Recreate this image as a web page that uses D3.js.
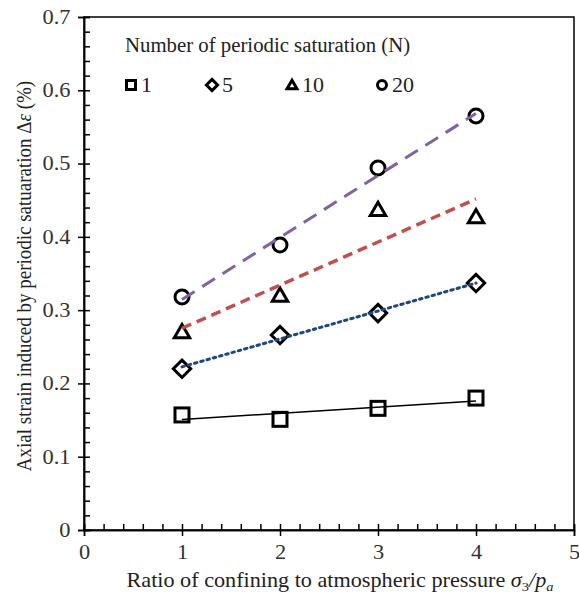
<!DOCTYPE html>
<html>
<head>
<meta charset="utf-8">
<script src="https://cdn.jsdelivr.net/npm/d3@7"></script>
<style>
  body { margin: 0; background: #fff; }
</style>
</head>
<body>
<svg width="579" height="595"></svg>
<script>
var svg = d3.select("svg");
var serif = "'Liberation Serif', 'Times New Roman', serif";

// data
var pressure = [1, 2, 3, 4];
var n1 = [0.157, 0.151, 0.166, 0.180];
var n5 = [0.220, 0.266, 0.296, 0.337];
var n10 = [0.270, 0.320, 0.437, 0.427];
var n20 = [0.318, 0.389, 0.494, 0.565];
var seriesNames = ["1", "5", "10", "20"];
var xTicks = [0, 1, 2, 3, 4, 5];
var yTicks = [0, 0.1, 0.2, 0.3, 0.4, 0.5, 0.6, 0.7];

var margin = { left: 84, right: 5, top: 17, bottom: 65 };
var width = 579, height = 595;

var x = d3.scaleLinear().domain([0, 5]).range([margin.left, width - margin.right]);
var y = d3.scaleLinear().domain([0, 0.7]).range([height - margin.bottom, margin.top]);

var series = [
  { name: seriesNames[0], values: n1, shape: "square", color: "#000", width: 1.5, dash: null },
  { name: seriesNames[1], values: n5, shape: "diamond", color: "#1F497D", width: 3, dash: "2.5,4" },
  { name: seriesNames[2], values: n10, shape: "triangle", color: "#C0504D", width: 3.5, dash: "10,6" },
  { name: seriesNames[3], values: n20, shape: "circle", color: "#8064A2", width: 3, dash: "15,9" }
];

// frame
svg.append("rect")
  .attr("x", x(0)).attr("y", y(0.7))
  .attr("width", x(5) - x(0)).attr("height", y(0) - y(0.7))
  .attr("fill", "none").attr("stroke", "#000").attr("stroke-width", 1.5);

// axes: outside major ticks + inside minor ticks
var minorY = d3.range(0, 0.7001, 0.02);
var minorX = d3.range(0, 5.001, 0.2);

var gy = svg.append("g").attr("transform", "translate(" + x(0) + ",0)");
gy.call(d3.axisLeft(y).tickValues(yTicks).tickSize(6).tickPadding(6)
  .tickFormat(function(d) { return d === 0 ? "0" : d3.format(".1f")(d); }));
gy.append("g").call(d3.axisRight(y).tickValues(minorY).tickSize(6).tickFormat(""));

var gx = svg.append("g").attr("transform", "translate(0," + y(0) + ")");
gx.call(d3.axisBottom(x).tickValues(xTicks).tickSize(6).tickPadding(6).tickFormat(d3.format("d")));
gx.append("g").call(d3.axisTop(x).tickValues(minorX).tickSize(6).tickFormat(""));

svg.selectAll(".domain").attr("stroke", "#000").attr("stroke-width", 1.5);
svg.selectAll(".tick line").attr("stroke", "#000").attr("stroke-width", 1.5);
svg.selectAll(".tick text").style("font-family", serif).style("font-size", "20px")
  .attr("fill", "#333").attr("transform", "scale(1.12,1)");
gx.selectAll(".tick text").attr("dy", "0.85em");

// marker shapes
function marker(g, shape, s) {
  if (shape === "square") {
    g.append("rect").attr("x", -s / 2).attr("y", -s / 2).attr("width", s).attr("height", s);
  } else if (shape === "diamond") {
    var r = s * 0.62;
    g.append("path").attr("d", "M0," + (-r) + "L" + r + ",0L0," + r + "L" + (-r) + ",0Z");
  } else if (shape === "triangle") {
    var h = s * 0.9;
    g.append("path").attr("d", "M0," + (-h * 0.6) + "L" + (s * 0.55) + "," + (h * 0.45) + "L" + (-s * 0.55) + "," + (h * 0.45) + "Z");
  } else {
    g.append("circle").attr("r", s / 2);
  }
}

// points
series.forEach(function(sr) {
  svg.append("g").selectAll("g").data(sr.values).enter().append("g")
    .attr("transform", function(d, i) { return "translate(" + x(pressure[i]) + "," + y(d) + ")"; })
    .each(function() { marker(d3.select(this), sr.shape, 14); })
    .selectAll("*").attr("fill", "none").attr("stroke", "#000").attr("stroke-width", 3);
});

// linear trend lines (least squares fit of each series)
series.forEach(function(sr) {
  var mx = d3.mean(pressure), my = d3.mean(sr.values);
  var sxy = d3.sum(pressure, function(p, i) { return (p - mx) * (sr.values[i] - my); });
  var sxx = d3.sum(pressure, function(p) { return (p - mx) * (p - mx); });
  var b = sxy / sxx, a = my - b * mx;
  var x0 = d3.min(pressure), x1 = d3.max(pressure);
  svg.append("line")
    .attr("x1", x(x0)).attr("y1", y(a + b * x0))
    .attr("x2", x(x1)).attr("y2", y(a + b * x1))
    .attr("stroke", sr.color).attr("stroke-width", sr.width)
    .attr("stroke-dasharray", sr.dash)
    .attr("stroke-linecap", sr.shape === "diamond" ? "round" : "butt");
});

// legend
svg.append("g").attr("transform", "translate(125,52) scale(1.04,1)")
  .append("text").attr("fill", "#222")
  .style("font-family", serif).style("font-size", "20px")
  .text("Number of periodic saturation (N)");
var legX = [131, 212, 292, 382];
series.forEach(function(sr, i) {
  var g = svg.append("g").attr("transform", "translate(" + legX[i] + ",85)");
  marker(g, sr.shape, 9);
  g.selectAll("*").attr("fill", "none").attr("stroke", "#000").attr("stroke-width", 3);
  svg.append("g").attr("transform", "translate(" + (legX[i] + 10) + ",92) scale(1.1,1)")
    .append("text").attr("fill", "#222")
    .style("font-family", serif).style("font-size", "20px")
    .text(sr.name);
});

// axis titles
var xt = svg.append("g").attr("transform", "translate(340,587) scale(1.11,1)")
  .append("text").attr("text-anchor", "middle")
  .style("font-family", serif).style("font-size", "20px").attr("fill", "#222");
xt.append("tspan").text("Ratio of confining to atmospheric pressure ");
xt.append("tspan").style("font-style", "italic").text("σ");
xt.append("tspan").style("font-size", "13px").attr("dy", 4).text("3");
xt.append("tspan").attr("dy", -4).style("font-style", "italic").text("/p");
xt.append("tspan").style("font-size", "13px").attr("dy", 4).style("font-style", "italic").text("a");

var yt = svg.append("text").attr("transform", "translate(31,276) rotate(-90) scale(1,1.12)")
  .attr("text-anchor", "middle").attr("fill", "#222")
  .style("font-family", serif).style("font-size", "19px");
yt.append("tspan").text("Axial strain induced by periodic satuaration Δ");
yt.append("tspan").style("font-style", "italic").text("ε");
yt.append("tspan").text(" (%)");
</script>
</body>
</html>
